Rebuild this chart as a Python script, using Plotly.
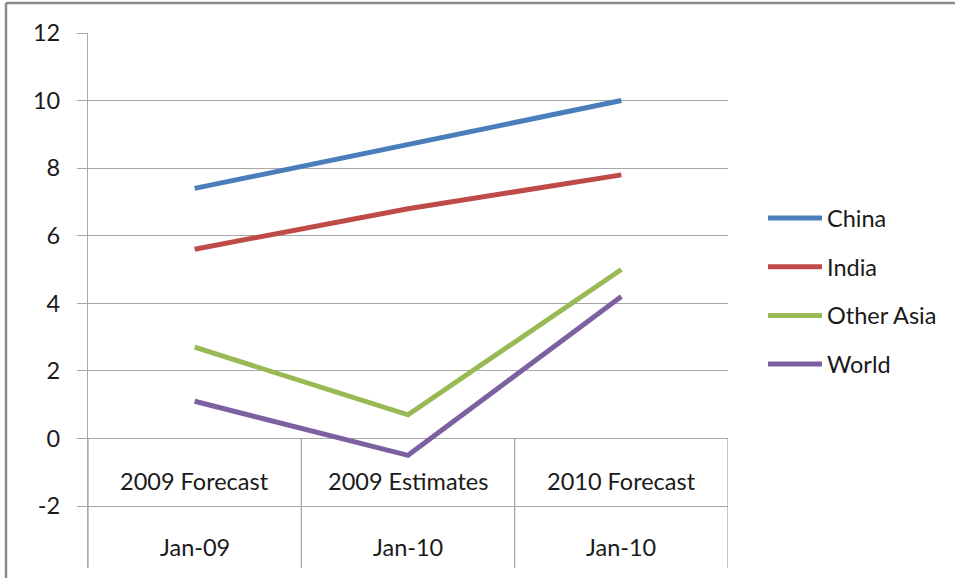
import plotly.graph_objects as go

# ---- data ----
periods = ["2009 Forecast", "2009 Estimates", "2010 Forecast"]
dates = ["Jan-09", "Jan-10", "Jan-10"]
series_names = ["China", "India", "Other Asia", "World"]
china = [7.4, 8.7, 10.0]
india = [5.6, 6.8, 7.8]
other_asia = [2.7, 0.7, 5.0]
world = [1.1, -0.5, 4.2]
y_ticks = [-2, 0, 2, 4, 6, 8, 10, 12]

colors = ["#4A7EBB", "#BE4B48", "#98B954", "#7D60A0"]
values = [china, india, other_asia, world]

W, H = 955, 578
FONT = "Lato"
FS = 23.5
TXT = "#1a1a1a"
GRID = "#a8a8a8"

Y_MIN, Y_MAX = -3.835, 12.0
x_dom = [88 / W, 728 / W]
y_dom = [(H - 568) / H, (H - 33) / H]

fig = go.Figure()
xs = list(range(len(periods)))
for name, vals, col in zip(series_names, values, colors):
    fig.add_trace(go.Scatter(x=xs, y=vals, mode="lines", name=name,
                             line=dict(color=col, width=5), showlegend=False))

fig.update_layout(
    width=W, height=H, margin=dict(l=0, r=0, t=0, b=0, autoexpand=False),
    paper_bgcolor="white", plot_bgcolor="white", showlegend=False,
    font=dict(family=FONT, size=FS, color=TXT),
    xaxis=dict(domain=x_dom, range=[-0.5, len(periods) - 0.5], visible=False,
               automargin=False),
    yaxis=dict(domain=y_dom, range=[Y_MIN, Y_MAX], tickvals=y_ticks,
               ticktext=[str(v) for v in y_ticks], automargin=False,
               showgrid=True, gridcolor=GRID, gridwidth=1.3,
               zeroline=False, showline=True, linecolor=GRID, linewidth=1.3,
               ticks="outside", ticklen=10, tickcolor=GRID, tickwidth=1.3,
               ticklabelstandoff=12,
               tickfont=dict(family=FONT, size=FS, color=TXT)),
)

shapes = []
# category table dividers
for i in range(len(periods) + 1):
    shapes.append(dict(type="line", xref="x", yref="y", x0=i - 0.5, x1=i - 0.5,
                       y0=0, y1=Y_MIN, line=dict(color=GRID, width=1.3)))
# outer frame (top/left border of chart object)
shapes.append(dict(type="line", xref="paper", yref="paper", x0=6 / W, x1=1.0,
                   y0=1 - 3 / H, y1=1 - 3 / H, line=dict(color="#8a8a8a", width=2.5)))
shapes.append(dict(type="line", xref="paper", yref="paper", x0=6 / W, x1=6 / W,
                   y0=0, y1=1 - 3 / H, line=dict(color="#8a8a8a", width=2.5)))

annotations = []
for i, (p, d) in enumerate(zip(periods, dates)):
    annotations.append(dict(x=i, y=-1.26, xref="x", yref="y", text=p, showarrow=False,
                            font=dict(family=FONT, size=FS, color=TXT)))
    annotations.append(dict(x=i, y=-3.21, xref="x", yref="y", text=d, showarrow=False,
                            font=dict(family=FONT, size=FS, color=TXT)))

# legend (drawn manually to match Excel style)
for i, (name, col) in enumerate(zip(series_names, colors)):
    yp = 1 - (218 + 48.7 * i) / H
    shapes.append(dict(type="line", xref="paper", yref="paper", x0=768 / W, x1=822 / W,
                       y0=yp, y1=yp, line=dict(color=col, width=5)))
    annotations.append(dict(x=825 / W, y=yp, xref="paper", yref="paper", text=name,
                            showarrow=False, xanchor="left", yanchor="middle",
                            font=dict(family=FONT, size=FS, color=TXT)))

fig.update_layout(shapes=shapes, annotations=annotations)
fig.write_html("out.html")
